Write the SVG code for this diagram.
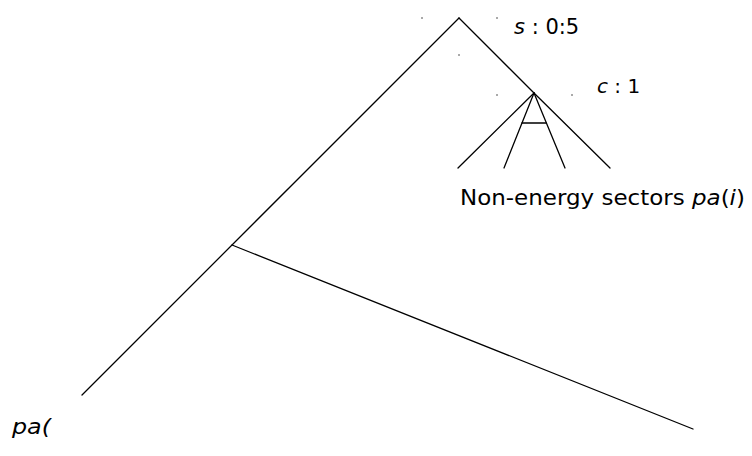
<svg xmlns="http://www.w3.org/2000/svg" width="752" height="456" viewBox="0 0 752 456">
<style>
.ln{stroke:#000;stroke-width:1.3;fill:none;stroke-linecap:round}
.tk{stroke:#555;stroke-width:1;fill:none}
.t{font-family:"DejaVu Sans","Liberation Sans",sans-serif;font-size:22px;fill:#000}
.i{font-style:italic}
</style>
<rect width="752" height="456" fill="#fff"/>
<g id="connectors">
<line class="ln" x1="459" y1="18" x2="82" y2="395"/>
<line class="ln" x1="459" y1="18" x2="534" y2="93"/>
<line class="ln" x1="232" y1="245" x2="693" y2="429"/>
<line class="ln" x1="534" y1="93" x2="458" y2="168"/>
<line class="ln" x1="534" y1="93" x2="504" y2="168"/>
<line class="ln" x1="534" y1="93" x2="565" y2="168"/>
<line class="ln" x1="534" y1="93" x2="610" y2="168"/>
<line class="ln" x1="522" y1="123" x2="546" y2="123"/>
</g>
<g id="ticks">
<line class="tk" x1="422" y1="17" x2="422" y2="19"/>
<line class="tk" x1="497" y1="17" x2="497" y2="19"/>
<line class="tk" x1="459" y1="54" x2="459" y2="56"/>
<line class="tk" x1="497" y1="94" x2="497" y2="96"/>
<line class="tk" x1="572" y1="94" x2="572" y2="96"/>
</g>
<g id="node-s">
<text class="t" x="514" y="34" style="font-size:21px"><tspan class="i">s</tspan> : 0:5</text>
</g>
<g id="node-c">
<text class="t" x="597" y="93" style="font-size:20px"><tspan class="i">c</tspan> : 1</text>
</g>
<g id="node-nonenergy">
<text class="t" x="460" y="205" textLength="285" lengthAdjust="spacingAndGlyphs">Non-energy sectors <tspan class="i">pa</tspan>(<tspan class="i">i</tspan>)</text>
</g>
<g id="node-pa">
<text class="t i" x="12" y="434" textLength="39" lengthAdjust="spacingAndGlyphs">pa(</text>
</g>
</svg>
